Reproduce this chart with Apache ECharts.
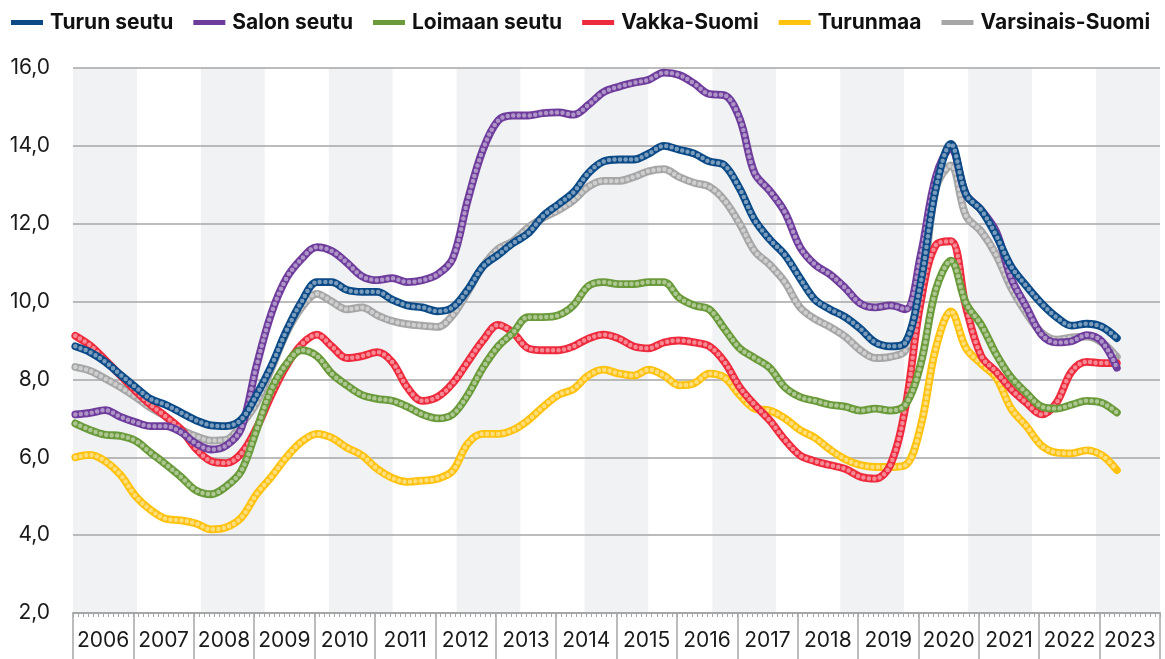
<!DOCTYPE html>
<html>
<head>
<meta charset="utf-8">
<script src="https://cdn.jsdelivr.net/npm/echarts@6/dist/echarts.min.js"></script>
<style>
html,body{margin:0;padding:0;background:#fff;}
#chart{width:1165px;height:659px;}
</style>
</head>
<body>
<div id="chart"></div>
<script>
// Year labels of the category axis
const yearLabels = ['2006','2007','2008','2009','2010','2011','2012','2013','2014','2015','2016','2017','2018','2019','2020','2021','2022','2023'];
// Quarterly sample dates (Jan 2006 ... Apr 2023)
const dates = [];
for (let i = 0; i < 70; i++) {
  const y = 2006 + Math.floor(i / 4);
  const m = 1 + 3 * (i % 4);
  dates.push(y + '-' + (m < 10 ? '0' + m : m) + '-15');
}
// Monthly categories for the tick ruler
const months = [];
yearLabels.forEach(y => { for (let m = 1; m <= 12; m++) months.push(y + '-' + m); });

const turunSeutu = [8.85,8.7,8.45,8.12, 7.8,7.5,7.35,7.15, 6.95,6.82,6.8,6.97, 7.6,8.35,9.25,10.0,
  10.5,10.5,10.3,10.25, 10.25,10.05,9.9,9.85, 9.75,9.85,10.3,10.9, 11.2,11.5,11.75,12.2,
  12.5,12.8,13.3,13.6, 13.65,13.65,13.8,14.0, 13.9,13.8,13.6,13.5, 12.9,12.1,11.6,11.2,
  10.6,10.05,9.8,9.6, 9.3,8.95,8.85,8.95, 10.5,12.9,14.05,12.75, 12.35,11.7,10.9,10.4,
  9.95,9.6,9.38,9.43, 9.35,9.06];
const salonSeutu = [7.1,7.14,7.21,7.04, 6.9,6.8,6.8,6.65, 6.35,6.2,6.3,6.75, 8.35,9.7,10.6,11.1,
  11.4,11.3,11.0,10.65, 10.55,10.6,10.5,10.55, 10.7,11.1,12.6,13.9, 14.65,14.78,14.78,14.84,
  14.86,14.8,15.05,15.38, 15.52,15.62,15.7,15.88, 15.82,15.6,15.33,15.3, 14.7,13.3,12.85,12.3,
  11.4,10.95,10.7,10.35, 9.95,9.85,9.9,9.8, 11.2,13.2,13.95,12.75, 12.35,11.8,10.6,9.86,
  9.15,8.95,8.98,9.14, 8.97,8.3];
const loimaanSeutu = [6.87,6.7,6.58,6.55, 6.42,6.12,5.82,5.5, 5.15,5.05,5.25,5.65, 6.7,7.75,8.4,8.75,
  8.6,8.15,7.85,7.6, 7.5,7.45,7.3,7.1, 7.0,7.1,7.6,8.3, 8.85,9.2,9.6,9.6,
  9.65,9.9,10.4,10.5, 10.45,10.45,10.5,10.5, 10.1,9.9,9.8,9.3, 8.8,8.55,8.3,7.8,
  7.55,7.45,7.35,7.3, 7.2,7.25,7.2,7.35, 8.4,10.3,11.05,9.95, 9.4,8.65,8.05,7.65,
  7.3,7.25,7.35,7.45, 7.4,7.15];
const vakkaSuomi = [9.12,8.87,8.5,8.1, 7.7,7.35,7.05,6.72, 6.22,5.9,5.85,6.1, 6.75,7.6,8.35,8.9,
  9.15,8.85,8.55,8.6, 8.7,8.45,7.8,7.45, 7.55,7.9,8.45,9.0, 9.4,9.2,8.8,8.75,
  8.75,8.85,9.05,9.15, 9.05,8.85,8.8,8.95, 9.0,8.95,8.85,8.45, 7.8,7.35,6.95,6.45,
  6.05,5.9,5.8,5.7, 5.5,5.45,5.8,7.3, 10.0,11.45,11.55,9.85, 8.6,8.2,7.75,7.4,
  7.1,7.4,8.2,8.45, 8.42,8.42];
const turunmaa = [6.0,6.06,5.9,5.55, 5.0,4.65,4.42,4.38, 4.3,4.15,4.2,4.45, 5.05,5.5,6.0,6.4,
  6.6,6.5,6.25,6.05, 5.7,5.47,5.37,5.4, 5.45,5.65,6.35,6.6, 6.6,6.7,6.95,7.3,
  7.6,7.75,8.1,8.25, 8.15,8.1,8.25,8.1, 7.85,7.9,8.15,8.05, 7.6,7.25,7.2,7.0,
  6.7,6.5,6.2,5.95, 5.8,5.75,5.75,5.8, 6.8,8.8,9.75,8.8, 8.4,8.05,7.25,6.8,
  6.3,6.12,6.1,6.18, 6.05,5.67];
const varsinaisSuomi = [8.32,8.22,8.02,7.8, 7.55,7.27,7.05,6.72, 6.54,6.43,6.45,6.85, 7.4,8.28,9.2,9.85,
  10.2,10.0,9.8,9.85, 9.65,9.5,9.42,9.38, 9.35,9.65,10.25,10.9, 11.35,11.55,11.9,12.15,
  12.35,12.6,12.95,13.1, 13.1,13.2,13.35,13.4, 13.2,13.05,12.95,12.6, 12.0,11.3,10.95,10.5,
  9.85,9.55,9.35,9.1, 8.75,8.55,8.58,8.75, 10.0,12.9,13.5,12.2, 11.8,11.2,10.35,9.7,
  9.2,9.02,9.08,9.1, 8.95,8.58];

const seriesDefs = [
  {name:'Varsinais-Suomi', data: varsinaisSuomi, color:'#a6a6a6'},
  {name:'Turunmaa', data: turunmaa, color:'#ffc20e'},
  {name:'Vakka-Suomi', data: vakkaSuomi, color:'#ee2a3d'},
  {name:'Loimaan seutu', data: loimaanSeutu, color:'#6a9a3a'},
  {name:'Salon seutu', data: salonSeutu, color:'#6e3d9c'},
  {name:'Turun seutu', data: turunSeutu, color:'#0b4a86'}
];
const legendOrder = ['Turun seutu','Salon seutu','Loimaan seutu','Vakka-Suomi','Turunmaa','Varsinais-Suomi'];

const FONT = 'Inter, Roboto, sans-serif';
const SMOOTH = 0.35;
const series = [];
seriesDefs.forEach(d => {
  const pts = d.data.map((v, i) => [dates[i], v]);
  series.push({
    name: d.name, type: 'line', xAxisIndex: 0, yAxisIndex: 0,
    data: pts, color: d.color, smooth: SMOOTH, symbol: 'none',
    lineStyle: {width: 7.8, color: d.color, cap: 'round', join: 'round'},
    silent: true
  });
  series.push({
    name: d.name + ' ', type: 'line', xAxisIndex: 0, yAxisIndex: 0,
    data: pts, smooth: SMOOTH, symbol: 'none',
    lineStyle: {width: 4.5, color: 'rgba(255,255,255,0.45)', type: [0, 5.5], cap: 'round'},
    silent: true
  });
});

const chart = echarts.init(document.getElementById('chart'), null, {renderer: 'canvas'});
chart.setOption({
  animation: false,
  backgroundColor: '#ffffff',
  textStyle: {fontFamily: FONT},
  legend: {
    data: legendOrder, top: 7, left: 6, width: 1200, itemGap: 20,
    icon: 'rect', itemWidth: 32, itemHeight: 5,
    textStyle: {fontFamily: FONT, fontSize: 21, fontWeight: 'bold', color: '#111', padding: [0, 0, 0, 2]}
  },
  grid: {left: 73, right: 5, top: 68, bottom: 46},
  xAxis: [
    {type: 'time', min: '2006-01-01', max: '2024-01-01', show: false},
    {type: 'category', data: months, position: 'bottom', boundaryGap: true, z: 3,
      axisLine: {show: true, lineStyle: {color: '#a6a6a6', width: 2}},
      axisTick: {show: true, interval: 0, length: 4, lineStyle: {color: '#a6a6a6', width: 1}},
      axisLabel: {show: false}, splitLine: {show: false}},
    {type: 'category', data: yearLabels, position: 'bottom', boundaryGap: true,
      axisLine: {show: false},
      axisTick: {show: true, interval: 0, length: 46, lineStyle: {color: '#a6a6a6', width: 1.5}},
      axisLabel: {interval: 0, fontSize: 21, margin: 17, color: '#1a1a1a', fontFamily: FONT},
      splitLine: {show: false}},
    {type: 'value', min: 0, max: 17, interval: 1, position: 'bottom',
      axisLine: {show: false}, axisTick: {show: false}, axisLabel: {show: false},
      splitLine: {show: false},
      splitArea: {show: true, areaStyle: {color: ['#f1f2f4', '#ffffff']}}}
  ],
  yAxis: {
    type: 'value', min: 2, max: 16, interval: 2, z: 1,
    axisLine: {show: false}, axisTick: {show: false},
    axisLabel: {fontSize: 21, margin: 23, color: '#1a1a1a', fontFamily: FONT,
      formatter: v => v.toFixed(1).replace('.', ',')},
    splitLine: {show: true, lineStyle: {color: '#a6a6a6', width: 1.6}}
  },
  series: series
});
</script>
</body>
</html>
